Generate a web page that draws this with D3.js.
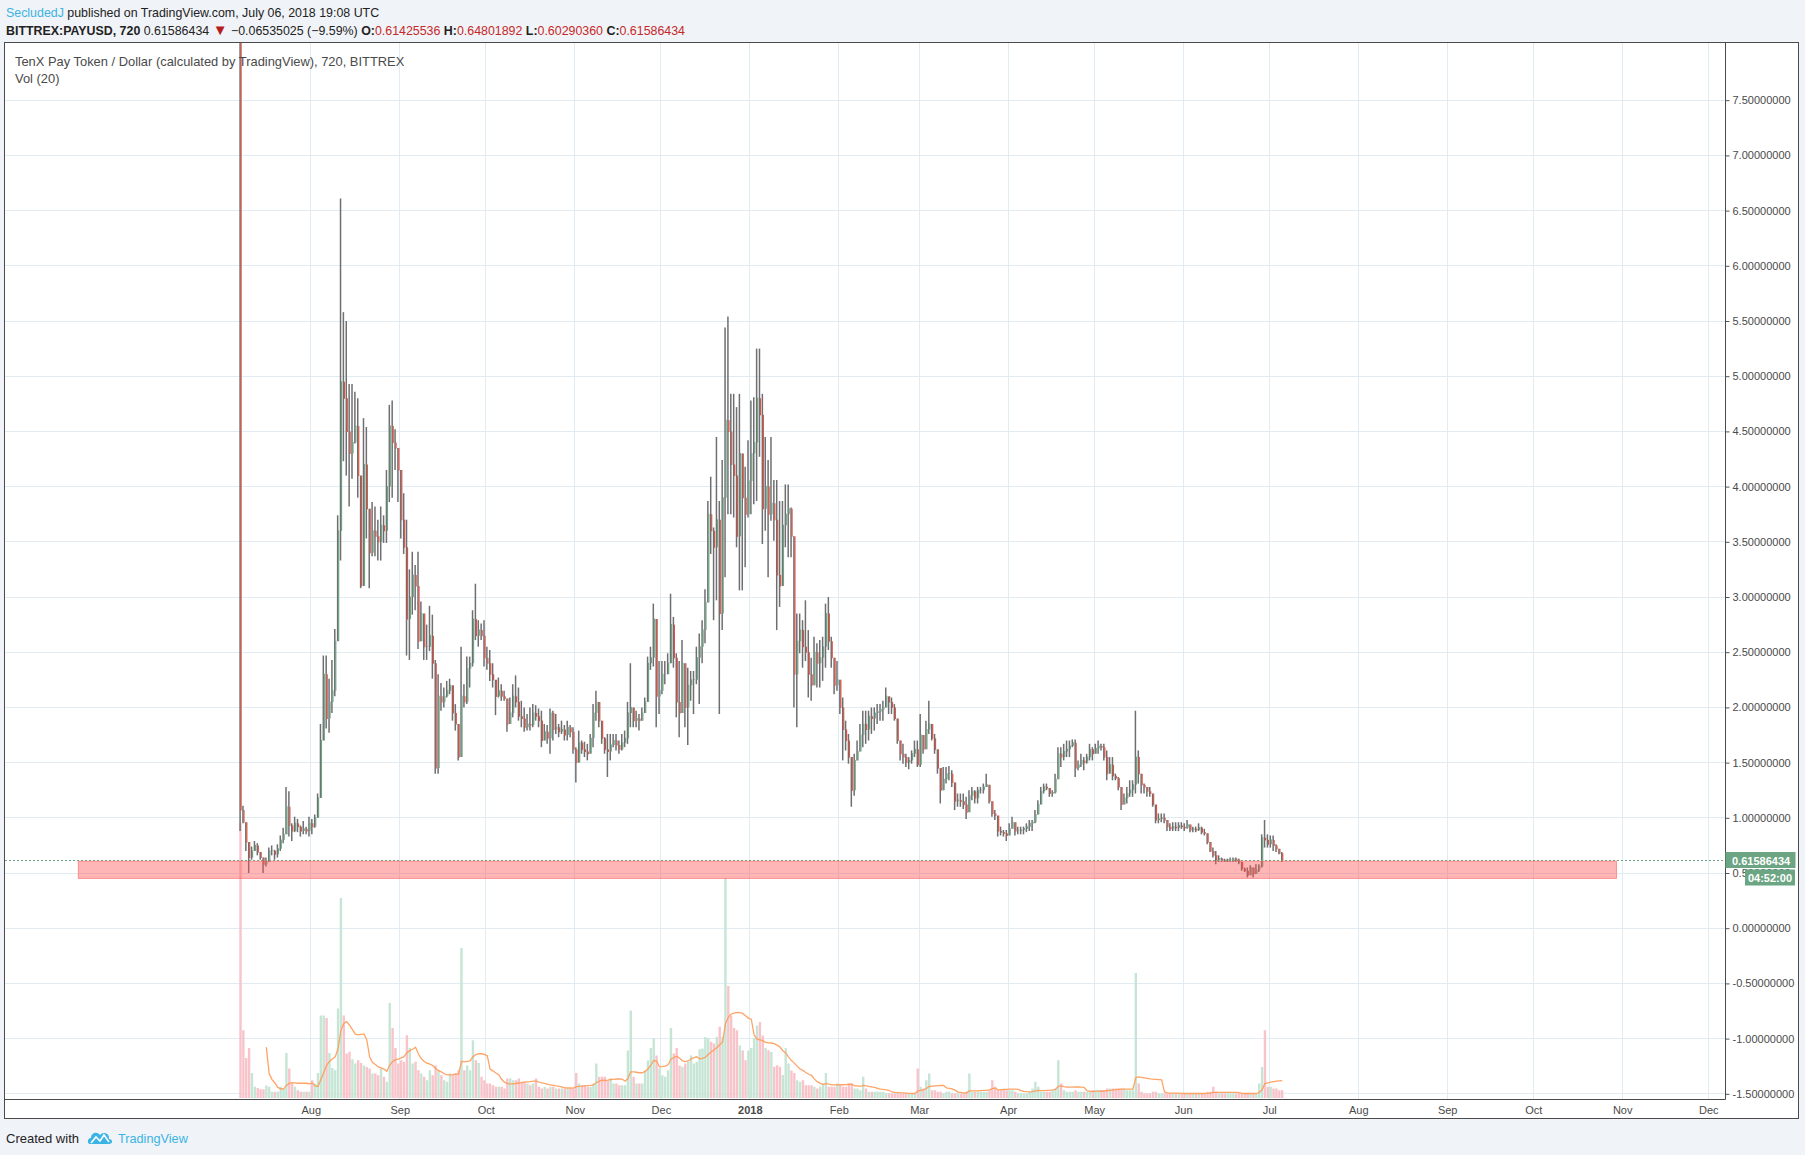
<!DOCTYPE html>
<html>
<head>
<meta charset="utf-8">
<script src="https://cdnjs.cloudflare.com/ajax/libs/d3/7.8.5/d3.min.js"></script>
<style>
  body { margin: 0; background: #f0f3f7; }
  svg { display: block; }
</style>
</head>
<body>
<svg></svg>
<script>
let width = 1805;
let height = 1155;

// BITTREX:PAYUSD, 720 bars, folded to one bar per day from 2017-07-07
const firstDay = "2017-07-07";
const firstOpen = 9.0; // listing bar opens far above the visible range

const closes = [
  1.07,0.96,0.78,0.64,0.70,0.75,0.69,0.64,0.58,0.60,
  0.70,0.70,0.67,0.72,0.80,0.85,1.10,0.93,0.88,0.95,
  0.92,0.88,0.90,0.88,0.95,0.92,1.00,1.18,1.70,2.30,
  1.90,2.05,2.15,2.60,3.60,4.95,4.80,4.50,4.30,4.40,
  4.55,4.10,3.10,4.20,3.80,3.40,3.60,3.55,3.50,3.65,
  3.60,4.00,4.55,4.40,4.35,4.15,3.70,3.45,2.80,3.00,
  3.20,3.10,2.60,2.85,2.55,2.55,2.65,2.40,1.45,2.10,
  2.05,
  2.10,2.15,2.20,1.95,1.85,1.55,2.10,2.05,2.35,2.40,
  2.80,2.65,2.70,2.65,2.45,2.40,2.30,2.25,2.10,2.15,
  2.10,2.08,1.85,1.95,2.10,2.05,1.92,1.90,1.82,1.85,
  1.84,1.95,1.92,1.88,1.70,1.78,1.72,1.95,1.80,1.82,
  1.78,1.80,1.75,1.82,1.78,1.62,1.50,1.68,1.62,1.60,
  1.58,1.72,1.95,2.05,1.88,1.72,1.62,1.60,1.66,1.70,
  1.66,1.62,1.68,1.72,1.95,2.00,1.88,1.90,1.88,1.95,
  2.05,2.40,2.45,2.80,
  2.10,2.15,2.30,2.30,2.40,2.75,2.45,2.05,1.95,2.40,
  2.00,2.20,2.25,2.25,2.45,2.55,2.70,2.95,3.75,3.60,
  3.45,3.70,2.85,3.90,4.60,4.50,4.20,4.10,3.55,4.30,
  3.90,3.75,4.05,4.30,4.40,4.80,4.65,3.80,4.00,3.75,
  3.85,3.70,3.20,3.10,3.65,3.75,3.80,3.55,2.30,2.60,
  2.70,2.55,2.50,2.30,2.20,2.50,2.40,2.45,2.55,2.85,
  2.60,2.45,2.20,2.25,2.00,1.80,1.70,1.55,1.25,1.52,
  1.60,1.75,
  1.85,1.80,1.92,1.90,1.95,1.96,1.98,2.00,2.10,2.05,
  2.00,1.90,1.70,1.58,1.55,1.50,1.52,1.58,1.62,1.48,
  1.75,1.62,1.80,1.85,1.72,1.62,1.45,1.25,1.35,1.40,
  1.40,1.32,1.15,1.16,1.15,1.12,1.05,1.20,1.24,1.18,
  1.25,1.25,1.28,1.30,1.15,1.04,1.02,0.88,0.87,0.86,
  0.84,0.90,0.96,0.88,0.88,0.89,0.90,0.92,0.95,0.96,
  1.03,1.12,1.24,1.28,1.27,1.22,1.23,1.35,1.58,1.55,
  1.60,1.62,1.65,1.68,1.45,1.48,1.52,1.50,1.55,1.62,
  1.58,1.63,1.65,1.64,1.55,1.40,1.48,1.38,1.36,1.28,
  1.12,1.18,1.22,1.25,1.30,1.55,1.40,1.30,1.28,1.24,
  1.22,1.12,0.98,0.99,1.00,0.98,0.92,0.90,0.92,0.91,
  0.93,0.92,0.91,0.94,0.89,0.90,0.89,0.91,0.87,0.86,
  0.78,0.70,0.66,0.62,0.63,0.62,0.61,0.62,0.62,0.63,
  0.62,0.60,0.54,0.52,0.48,0.55,0.49,0.53,0.56,0.82,
  0.80,0.76,0.80,0.75,0.72,0.68,0.6159
];

const highs = [
  9.00,1.11,0.91,0.72,0.74,0.79,0.77,0.69,0.64,0.64,
  0.73,0.75,0.71,0.76,0.84,0.91,1.28,1.24,0.95,1.01,
  0.99,0.93,0.97,0.92,1.01,0.99,1.03,1.22,1.85,2.47,
  2.47,2.26,2.43,2.71,3.74,6.61,5.58,5.50,4.93,4.93,
  4.86,4.80,3.98,4.62,4.54,3.66,3.86,3.82,3.70,3.82,
  3.74,4.15,4.74,4.78,4.52,4.35,4.07,3.94,3.70,3.25,
  3.41,3.29,3.41,2.96,2.84,2.75,2.92,2.84,2.43,2.30,
  2.22,
  2.18,2.24,2.26,2.18,2.03,1.82,2.55,2.21,2.46,2.46,
  2.88,3.12,2.79,2.76,2.79,2.55,2.52,2.40,2.24,2.27,
  2.21,2.15,2.03,2.09,2.21,2.29,2.18,2.06,2.00,1.94,
  2.00,2.03,2.02,1.99,1.97,1.85,1.84,1.99,1.97,1.94,
  1.85,1.88,1.84,1.88,1.84,1.82,1.64,1.79,1.70,1.69,
  1.67,1.76,2.03,2.15,2.05,1.88,1.73,1.76,1.76,1.76,
  1.76,1.70,1.76,1.79,2.05,2.40,1.94,1.97,1.94,2.00,
  2.09,2.46,2.55,2.94,
  2.64,2.42,2.42,2.42,2.49,3.03,2.82,2.49,2.42,2.61,
  2.36,2.36,2.33,2.33,2.55,2.67,2.79,3.07,3.87,4.09,
  3.63,4.45,3.87,4.24,5.44,5.54,4.84,4.84,4.72,4.84,
  4.12,4.18,4.42,4.78,4.81,5.25,5.25,4.84,4.45,4.24,
  4.45,4.06,4.06,3.87,3.87,4.02,4.02,3.81,3.45,2.85,
  2.85,2.79,2.97,2.70,2.45,2.64,2.58,2.61,2.64,2.94,
  3.00,2.64,2.42,2.42,2.18,2.09,1.88,1.76,1.52,1.58,
  1.70,1.85,
  1.97,1.97,1.97,2.00,2.00,2.03,2.03,2.06,2.18,2.09,
  2.09,2.03,1.85,1.70,1.67,1.58,1.55,1.61,1.70,1.70,
  1.94,1.70,1.88,2.06,1.85,1.76,1.55,1.40,1.46,1.46,
  1.47,1.43,1.28,1.22,1.22,1.22,1.19,1.25,1.28,1.25,
  1.28,1.28,1.31,1.40,1.28,1.10,1.07,0.98,0.92,0.89,
  0.89,0.95,1.01,0.92,0.92,0.92,0.92,0.95,0.98,0.98,
  1.07,1.16,1.28,1.31,1.31,1.25,1.25,1.40,1.64,1.64,
  1.67,1.70,1.70,1.71,1.71,1.52,1.58,1.55,1.58,1.67,
  1.64,1.67,1.70,1.67,1.67,1.61,1.55,1.55,1.40,1.37,
  1.22,1.22,1.28,1.34,1.34,1.97,1.61,1.37,1.31,1.28,
  1.28,1.22,1.10,1.04,1.04,1.04,0.98,0.95,0.96,0.96,
  0.96,0.96,0.95,0.98,0.92,0.92,0.92,0.95,0.92,0.90,
  0.85,0.76,0.73,0.70,0.66,0.64,0.63,0.63,0.64,0.64,
  0.64,0.63,0.60,0.55,0.55,0.57,0.54,0.58,0.58,0.85,
  0.98,0.85,0.84,0.84,0.76,0.72,0.69
];

const lows = [
  0.88,0.95,0.70,0.50,0.62,0.70,0.66,0.62,0.50,0.56,
  0.62,0.66,0.62,0.64,0.70,0.77,0.91,0.83,0.79,0.87,
  0.87,0.83,0.85,0.85,0.83,0.85,0.91,1.07,1.20,1.85,
  1.81,1.77,1.95,2.10,2.63,3.33,4.23,4.10,3.82,4.07,
  4.39,3.90,3.08,3.70,3.53,3.08,3.37,3.37,3.33,3.33,
  3.49,3.49,3.86,3.90,4.15,3.86,3.53,3.39,2.47,2.43,
  2.84,2.88,2.53,2.67,2.43,2.43,2.51,2.26,1.40,1.40,
  1.97,
  2.00,2.09,2.12,1.88,1.79,1.52,1.70,2.00,2.03,2.18,
  2.37,2.61,2.55,2.61,2.37,2.34,2.24,2.18,1.93,2.09,
  2.06,2.06,1.78,1.88,1.91,2.00,1.88,1.82,1.78,1.79,
  1.79,1.82,1.88,1.82,1.64,1.70,1.67,1.58,1.70,1.76,
  1.73,1.76,1.70,1.70,1.73,1.58,1.32,1.52,1.58,1.55,
  1.52,1.58,1.64,1.88,1.82,1.67,1.58,1.37,1.52,1.64,
  1.61,1.58,1.61,1.64,1.67,1.82,1.82,1.82,1.79,1.88,
  1.97,2.12,2.34,2.37,
  1.82,1.94,2.12,2.21,2.30,2.67,2.36,1.91,1.73,1.97,
  1.82,1.66,2.06,1.94,2.21,2.03,2.40,2.58,3.21,3.39,
  2.79,2.97,1.94,2.70,3.18,3.75,3.75,3.72,3.45,3.06,
  3.06,3.27,3.72,3.75,3.84,3.87,4.27,3.48,3.60,3.18,
  3.69,3.51,2.70,2.91,3.33,3.45,3.36,3.36,2.00,1.82,
  2.49,2.36,2.42,2.09,2.06,2.24,2.18,2.18,2.24,2.36,
  2.52,2.36,2.12,2.15,1.94,1.52,1.61,1.49,1.10,1.20,
  1.55,1.61,
  1.64,1.67,1.70,1.76,1.79,1.85,1.88,1.88,2.00,1.94,
  1.94,1.88,1.67,1.52,1.49,1.46,1.44,1.49,1.55,1.46,
  1.46,1.58,1.67,1.76,1.70,1.58,1.40,1.13,1.28,1.31,
  1.34,1.28,1.07,1.10,1.10,1.08,0.99,1.10,1.16,1.13,
  1.13,1.22,1.22,1.28,1.13,1.01,0.98,0.83,0.84,0.83,
  0.79,0.85,0.92,0.84,0.85,0.85,0.85,0.87,0.88,0.88,
  0.95,1.04,1.16,1.22,1.25,1.19,1.19,1.22,1.37,1.46,
  1.52,1.55,1.55,1.64,1.37,1.43,1.46,1.43,1.49,1.52,
  1.52,1.58,1.58,1.61,1.52,1.34,1.40,1.34,1.34,1.25,
  1.07,1.13,1.13,1.19,1.19,1.22,1.31,1.22,1.22,1.19,
  1.19,1.10,0.95,0.95,0.96,0.95,0.88,0.88,0.88,0.88,
  0.88,0.90,0.88,0.90,0.87,0.87,0.87,0.88,0.85,0.84,
  0.76,0.69,0.64,0.58,0.60,0.60,0.60,0.60,0.60,0.60,
  0.60,0.58,0.52,0.51,0.46,0.51,0.46,0.51,0.51,0.55,
  0.73,0.73,0.73,0.70,0.69,0.67,0.60
];

// volume, arbitrary units (no volume scale is shown on the chart)
const volumes = [
  1100,271,160,200,100,45,40,35,35,50,
  45,25,25,25,45,38,180,118,58,45,
  31,25,25,25,25,
  71,58,100,330,330,320,180,120,111,358,
  800,330,178,185,155,138,151,140,130,124,
  118,98,98,91,118,85,65,380,280,200,
  138,151,145,251,200,138,145,111,98,85,
  71,111,91,130,111,91,71,65,98,91,
  100,111,600,111,130,111,231,151,140,85,
  71,58,58,51,45,45,45,38,78,78,
  71,71,78,65,65,58,51,58,78,45,
  38,45,38,45,45,38,38,38,38,38,
  38,38,100,58,51,51,45,45,58,138,
  85,85,85,70,78,58,58,51,51,51,
  190,350,85,58,58,58,110,150,200,238,
  170,118,91,85,110,280,178,200,130,125,
  138,145,170,138,145,195,198,244,240,225,
  218,245,285,245,880,448,330,280,271,210,
  190,151,190,200,240,
  290,304,250,200,191,184,125,131,125,92,
  200,138,110,100,71,65,71,51,51,51,
  45,38,45,58,100,45,45,45,58,51,
  45,45,58,58,38,38,31,85,38,25,
  25,25,25,25,25,18,18,18,18,18,
  18,18,18,18,18,18,118,45,38,71,
  98,31,31,25,25,18,25,25,18,18,
  18,18,18,25,98,25,25,25,25,25,
  25,31,71,45,31,31,31,31,31,31,
  25,18,18,18,18,25,38,65,45,25,
  25,25,25,31,38,151,58,31,25,25,
  25,31,25,25,25,25,25,31,31,31,
  31,31,38,38,38,38,38,38,38,31,
  31,31,500,58,25,18,18,18,25,25,
  18,18,18,18,18,18,18,18,18,18,
  18,18,18,18,18,18,18,25,25,45,
  25,18,18,18,18,18,18,18,18,18,
  18,18,18,18,18,58,124,271,45,45,
  38,38,31,31
];

const yTicks = [-1.5, -1, -0.5, 0, 0.5, 1, 1.5, 2, 2.5, 3, 3.5, 4, 4.5, 5, 5.5, 6, 6.5, 7, 7.5];
const monthTicks = ["2017-08-01","2017-09-01","2017-10-01","2017-11-01","2017-12-01","2018-01-01","2018-02-01",
  "2018-03-01","2018-04-01","2018-05-01","2018-06-01","2018-07-01","2018-08-01","2018-09-01","2018-10-01",
  "2018-11-01","2018-12-01"];
const monthLabels = ["Aug","Sep","Oct","Nov","Dec","2018","Feb","Mar","Apr","May","Jun","Jul","Aug","Sep","Oct","Nov","Dec"];

const lastPrice = 0.61586434;
const countdown = "04:52:00";
const headerOHLC = [["O:", "0.61425536"], ["H:", "0.64801892"], ["L:", "0.60290360"], ["C:", "0.61586434"]];
// support box drawn on the chart
const zone = { from: "2017-05-12", to: "2018-10-30", top: 0.607, bottom: 0.451 };

const parse = d3.utcParse("%Y-%m-%d");
const day0 = parse(firstDay);

// open = previous close (market trades round the clock)
const bars = closes.map((c, i) => {
  const open = i === 0 ? firstOpen : closes[i - 1];
  return {
    date: d3.utcHour.offset(d3.utcDay.offset(day0, i), 12),
    open: open,
    close: c,
    high: Math.max(highs[i], open, c),
    low: Math.min(lows[i], open, c),
    volume: volumes[i]
  };
});

// Vol (20): 20 bars of 720 minutes = 10 days
const maLen = 10;
const volMa = bars.slice(maLen - 1).map((d, i) => ({
  date: d.date,
  value: d3.mean(bars.slice(i, i + maLen), e => e.volume)
}));

const plotLeft = 5, plotRight = 1725.5, plotTop = 43, plotBottom = 1099;

const x = d3.scaleUtc()
  .domain([parse("2017-08-01"), parse("2018-12-01")])
  .range([310.8, 1708.3]);

const y = d3.scaleLinear()
  .domain([-1.5, 7.5])
  .range([1093.8, 100.2]);

const yVol = d3.scaleLinear()
  .domain([0, 4200])
  .range([1098, 48]);

const up = "#6ba583", down = "#d75442";

const svg = d3.select("svg")
  .attr("width", width)
  .attr("height", height)
  .style("font-family", "'Liberation Sans', Arial, sans-serif");

svg.append("rect").attr("width", width).attr("height", height).attr("fill", "#f0f3f7");

svg.append("rect")
  .attr("x", 4.5).attr("y", 42.5)
  .attr("width", 1794).attr("height", 1076)
  .attr("fill", "#fff")
  .attr("stroke", "#4b4b4b");

svg.append("clipPath").attr("id", "plot")
  .append("rect")
  .attr("x", plotLeft).attr("y", plotTop)
  .attr("width", plotRight - plotLeft).attr("height", plotBottom - plotTop);

// grid
const grid = svg.append("g")
  .attr("stroke", "#e1ebf2")
  .attr("shape-rendering", "crispEdges");

grid.selectAll(".h")
  .data(yTicks)
  .join("line")
  .attr("class", "h")
  .attr("x1", plotLeft).attr("x2", plotRight)
  .attr("y1", d => y(d)).attr("y2", d => y(d));

grid.selectAll(".v")
  .data(monthTicks)
  .join("line")
  .attr("class", "v")
  .attr("x1", d => x(parse(d))).attr("x2", d => x(parse(d)))
  .attr("y1", plotTop).attr("y2", plotBottom);

const plot = svg.append("g").attr("clip-path", "url(#plot)");

// volume
plot.append("g")
  .selectAll("rect")
  .data(bars)
  .join("rect")
  .attr("x", d => x(d.date) - 1.2)
  .attr("width", 2.4)
  .attr("y", d => yVol(d.volume))
  .attr("height", d => yVol(0) - yVol(d.volume))
  .attr("fill", d => d.close >= d.open ? "#c6e5d5" : "#f8c4ca");

plot.append("path")
  .datum(volMa)
  .attr("fill", "none")
  .attr("stroke", "#ff9a55")
  .attr("stroke-width", 1.3)
  .attr("stroke-opacity", 0.9)
  .attr("d", d3.line().x(d => x(d.date)).y(d => yVol(d.value)));

// candles: grey wick, thin coloured body
const candle = plot.append("g")
  .selectAll("g")
  .data(bars)
  .join("g");

candle.append("line")
  .attr("x1", d => x(d.date) - 0.4).attr("x2", d => x(d.date) - 0.4)
  .attr("y1", d => y(d.high)).attr("y2", d => y(d.low))
  .attr("stroke", "#6f6f72")
  .attr("stroke-width", 1.5);

candle.append("line")
  .attr("x1", d => x(d.date) + 0.6).attr("x2", d => x(d.date) + 0.6)
  .attr("y1", d => y(d.open)).attr("y2", d => y(d.close) + (d.close >= d.open ? -0.5 : 0.5))
  .attr("stroke", d => d.close >= d.open ? up : down)
  .attr("stroke-width", 1.2);

// support zone
plot.append("rect")
  .attr("x", x(parse(zone.from)))
  .attr("width", x(parse(zone.to)) - x(parse(zone.from)))
  .attr("y", y(zone.top))
  .attr("height", y(zone.bottom) - y(zone.top))
  .attr("fill", "rgba(255, 82, 82, 0.42)")
  .attr("stroke", "rgba(255, 82, 82, 0.55)");

// last price line
const yLast = Math.round(y(lastPrice)) + 0.5;
svg.append("line")
  .attr("x1", plotLeft).attr("x2", plotRight)
  .attr("y1", yLast).attr("y2", yLast)
  .attr("stroke", up)
  .attr("stroke-dasharray", "2,2");

// price scale
const yAxis = svg.append("g")
  .attr("transform", `translate(${plotRight},0)`)
  .call(d3.axisRight(y).tickValues(yTicks).tickFormat(d => d.toFixed(8)).tickSize(4).tickPadding(3));
yAxis.select(".domain").remove();
yAxis.selectAll("line").attr("stroke", "#555");
yAxis.selectAll("text")
  .attr("fill", "#4a4a4a")
  .attr("font-family", "'Liberation Sans', Arial, sans-serif")
  .attr("font-size", 11);

// time scale
const xAxis = svg.append("g")
  .attr("transform", `translate(0,${plotBottom})`)
  .call(d3.axisBottom(x).tickValues(monthTicks.map(parse)).tickFormat((d, i) => monthLabels[i]).tickSize(0).tickPadding(7));
xAxis.select(".domain").remove();
xAxis.selectAll("text")
  .attr("fill", "#4a4a4a")
  .attr("font-family", "'Liberation Sans', Arial, sans-serif")
  .attr("font-size", 11)
  .attr("font-weight", (d, i) => monthLabels[i] === "2018" ? "bold" : null);

svg.append("line")
  .attr("x1", plotRight).attr("x2", plotRight)
  .attr("y1", 43).attr("y2", plotBottom + 0.5)
  .attr("stroke", "#4b4b4b");
svg.append("line")
  .attr("x1", 4.5).attr("x2", plotRight)
  .attr("y1", plotBottom + 0.5).attr("y2", plotBottom + 0.5)
  .attr("stroke", "#4b4b4b");

// last price + countdown labels
svg.append("rect")
  .attr("x", plotRight).attr("y", yLast - 8.5)
  .attr("width", 70).attr("height", 16)
  .attr("fill", up);
svg.append("text")
  .attr("x", 1732).attr("y", yLast + 4)
  .attr("fill", "#fff")
  .attr("font-size", 11)
  .attr("font-weight", "bold")
  .text(lastPrice.toFixed(8));
svg.append("rect")
  .attr("x", 1745).attr("y", yLast + 9)
  .attr("width", 50).attr("height", 16)
  .attr("fill", up);
svg.append("text")
  .attr("x", 1770).attr("y", yLast + 21)
  .attr("text-anchor", "middle")
  .attr("fill", "#fff")
  .attr("font-size", 11)
  .attr("font-weight", "bold")
  .text(countdown);

// header
const line1 = svg.append("text")
  .attr("x", 6).attr("y", 16.5)
  .attr("font-size", 12.4)
  .attr("fill", "#222");
line1.append("tspan").attr("fill", "#3bb3e4").text("SecludedJ");
line1.append("tspan").text(" published on TradingView.com, July 06, 2018 19:08 UTC");

const line2 = svg.append("text")
  .attr("x", 6).attr("y", 34.5)
  .attr("font-size", 12.4)
  .attr("fill", "#222");
line2.append("tspan").attr("font-weight", "bold").text("BITTREX:PAYUSD, 720");
line2.append("tspan").text(" " + lastPrice.toFixed(8) + " ");
line2.append("tspan").attr("fill", "#b71c1c").attr("font-size", 15).text("▼");
line2.append("tspan").text(" \u22120.06535025 (\u22129.59%) ");
headerOHLC.forEach((d, i) => {
  line2.append("tspan").attr("font-weight", "bold").text((i ? " " : "") + d[0]);
  line2.append("tspan").attr("fill", "#c62828").text(d[1]);
});

svg.append("text")
  .attr("x", 15).attr("y", 65.5)
  .attr("font-size", 12.9)
  .attr("fill", "#4a4a4a")
  .text("TenX Pay Token / Dollar (calculated by TradingView), 720, BITTREX");

svg.append("text")
  .attr("x", 15).attr("y", 83)
  .attr("font-size", 12.9)
  .attr("fill", "#4a4a4a")
  .text("Vol (20)");

// footer
svg.append("text")
  .attr("x", 6).attr("y", 1142.5)
  .attr("font-size", 13)
  .attr("fill", "#222")
  .text("Created with");

const logo = svg.append("g").attr("transform", "translate(88,1130)");
logo.append("path")
  .attr("d", "M2,14 C-1,14 -1,8 3,8 C3,3 9,1 12,5 C15,1 22,3 21,9 C25,9 25,14 21,14 Z")
  .attr("fill", "#3bb3e4");
logo.append("polyline")
  .attr("points", "3,13 8,7 12,11 16,5 21,12")
  .attr("fill", "none")
  .attr("stroke", "#fff")
  .attr("stroke-width", 1.6);

svg.append("text")
  .attr("x", 118).attr("y", 1142.5)
  .attr("font-size", 12.7)
  .attr("fill", "#3bb3e4")
  .text("TradingView");
</script>
</body>
</html>
